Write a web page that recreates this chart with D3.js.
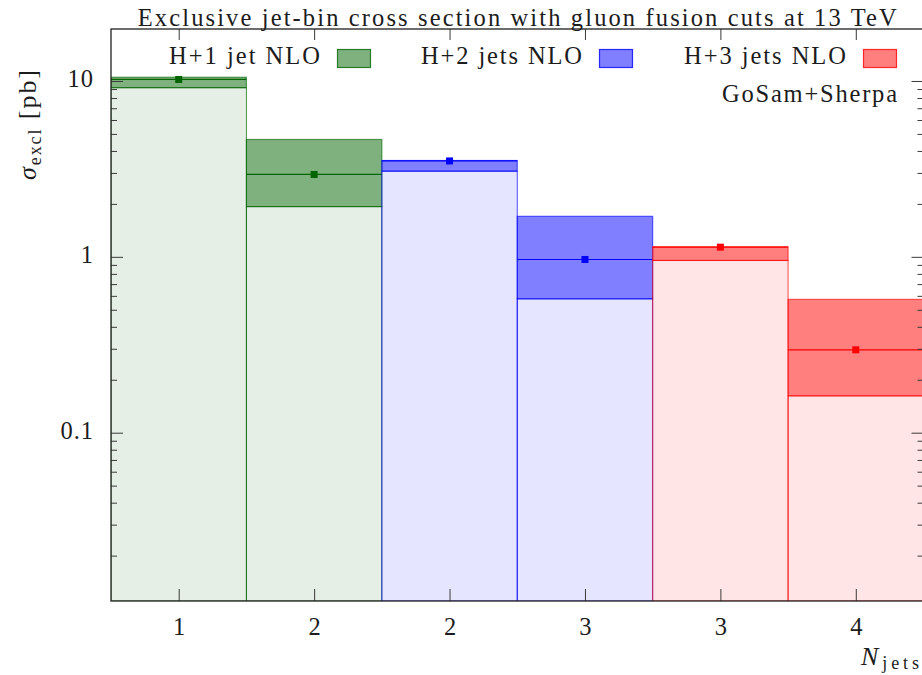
<!DOCTYPE html>
<html>
<head>
<meta charset="utf-8">
<script src="https://cdn.jsdelivr.net/npm/d3@7"></script>
<style>
  body { margin: 0; background: #fff; }
  svg { display: block; }
</style>
</head>
<body>
<svg id="chart" width="922" height="675"></svg>
<script>
// Exclusive jet-bin cross sections (pb): central value and scale-variation band per bin
const binLabels   = ["1", "2", "2", "3", "3", "4"];
const binSeries   = [0, 0, 1, 1, 2, 2];
const seriesNames = ["H+1 jet NLO", "H+2 jets NLO", "H+3 jets NLO"];
const seriesColors = ["#006400", "#0000ff", "#ff0000"];
const central = [10.2, 2.94, 3.51, 0.966, 1.135, 0.296];
const upper   = [10.5, 4.65, 3.53, 1.70, 1.14, 0.573];
const lower   = [9.16, 1.93, 3.07, 0.577, 0.954, 0.162];
const yMajorTicks  = [0.1, 1, 10];
const yMajorLabels = ["0.1", "1", "10"];
const titleText = "Exclusive jet-bin cross section with gluon fusion cuts at 13 TeV";
const creditText = "GoSam+Sherpa";

const SERIF = "'Liberation Serif', 'Times New Roman', Tinos, 'DejaVu Serif', 'Noto Serif', Times, serif";
const TEXT_COLOR = "#1c1c1c";

const svg = d3.select("#chart")
  .attr("font-family", SERIF).style("font-family", SERIF);
const plotLeft = 111, plotRight = 923.5, plotTop = 29, plotBottom = 601;
const FS = 24.5;

const x = d3.scaleLinear().domain([0.5, binLabels.length + 0.5]).range([plotLeft, plotRight]);
const y = d3.scaleLog().domain([0.01104, 19.75]).range([plotBottom, plotTop]);

svg.append("clipPath").attr("id", "plot-clip")
  .append("rect").attr("x", plotLeft).attr("y", plotTop)
  .attr("width", plotRight - plotLeft).attr("height", plotBottom - plotTop);

function serifText(sel, size) {
  return sel.attr("font-family", SERIF).style("font-family", SERIF)
    .style("font-size", size + "px").attr("fill", TEXT_COLOR);
}

// Bins: pale column up to the band, shaded band, central line and marker
const bins = svg.append("g").attr("clip-path", "url(#plot-clip)")
  .selectAll("g.bin").data(binLabels.map((d, i) => i)).join("g").attr("class", "bin");

bins.append("rect")
  .attr("x", i => x(i + 0.5)).attr("width", i => x(i + 1.5) - x(i + 0.5))
  .attr("y", i => y(lower[i])).attr("height", i => plotBottom - y(lower[i]))
  .attr("fill", i => seriesColors[binSeries[i]]).attr("fill-opacity", 0.1)
  .attr("stroke", i => seriesColors[binSeries[i]]).attr("stroke-opacity", 0.7).attr("stroke-width", 1);

bins.append("rect")
  .attr("x", i => x(i + 0.5)).attr("width", i => x(i + 1.5) - x(i + 0.5))
  .attr("y", i => y(upper[i])).attr("height", i => y(lower[i]) - y(upper[i]))
  .attr("fill", i => seriesColors[binSeries[i]]).attr("fill-opacity", 0.5)
  .attr("stroke", i => seriesColors[binSeries[i]]).attr("stroke-opacity", 0.6).attr("stroke-width", 1.2);

bins.append("line")
  .attr("x1", i => x(i + 0.5)).attr("x2", i => x(i + 1.5))
  .attr("y1", i => y(central[i])).attr("y2", i => y(central[i]))
  .attr("stroke", i => seriesColors[binSeries[i]]).attr("stroke-width", 1.2);

bins.append("rect")
  .attr("x", i => x(i + 1) - 3.5).attr("y", i => y(central[i]) - 3.5)
  .attr("width", 7).attr("height", 7)
  .attr("fill", i => seriesColors[binSeries[i]]);

// Axes (ticks point inward on all four sides)
const minorTicks = [];
[0.01, 0.1, 1, 10].forEach(dec => {
  for (let m = 2; m <= 9; m++) {
    const v = dec * m;
    if (v > y.domain()[0] && v < y.domain()[1]) minorTicks.push(v);
  }
});

function styleAxis(g) {
  g.attr("font-family", SERIF);
  g.select(".domain").remove();
  g.selectAll(".tick line").attr("stroke", "#3a3a3a").attr("stroke-width", 1);
  g.selectAll(".tick text").call(serifText, FS);
}

svg.append("g").attr("transform", `translate(${plotLeft},0)`)
  .call(d3.axisLeft(y).tickValues(yMajorTicks).tickSize(-12).tickPadding(17)
    .tickFormat((d, i) => yMajorLabels[i]))
  .call(styleAxis)
  .call(g => g.selectAll(".tick text").attr("dy", "0.24em").style("letter-spacing", "1px"));

svg.append("g").attr("transform", `translate(${plotLeft},0)`)
  .call(d3.axisLeft(y).tickValues(minorTicks).tickSize(-6).tickFormat(""))
  .call(styleAxis);

svg.append("g").attr("transform", `translate(${plotRight},0)`)
  .call(d3.axisRight(y).tickValues(yMajorTicks).tickSize(-12).tickFormat(""))
  .call(styleAxis);

svg.append("g").attr("transform", `translate(${plotRight},0)`)
  .call(d3.axisRight(y).tickValues(minorTicks).tickSize(-6).tickFormat(""))
  .call(styleAxis);

svg.append("g").attr("transform", `translate(0,${plotBottom})`)
  .call(d3.axisBottom(x).tickValues(d3.range(1, binLabels.length + 1)).tickSize(-12).tickPadding(16.5)
    .tickFormat((d, i) => binLabels[i]))
  .call(styleAxis);

svg.append("g").attr("transform", `translate(0,${plotTop})`)
  .call(d3.axisTop(x).tickValues(d3.range(1, binLabels.length + 1)).tickSize(-11).tickFormat(""))
  .call(styleAxis);

// Frame
svg.append("rect").attr("x", plotLeft).attr("y", plotTop)
  .attr("width", plotRight - plotLeft).attr("height", plotBottom - plotTop)
  .attr("fill", "none").attr("stroke", "#1f1f1f").attr("stroke-width", 1.3);

// Title
svg.append("text").attr("x", (plotLeft + plotRight) / 2).attr("y", 26).attr("text-anchor", "middle")
  .attr("textLength", 759).attr("lengthAdjust", "spacing")
  .call(serifText, FS).text(titleText);

// Legend
const legendEnds = [320, 582, 846];
const legendWidths = [151, 161, 162];
const legend = svg.append("g").selectAll("g").data(seriesNames).join("g");
legend.append("text").attr("x", (d, i) => legendEnds[i] - legendWidths[i]).attr("y", 63.5)
  .attr("textLength", (d, i) => legendWidths[i]).attr("lengthAdjust", "spacing")
  .call(serifText, FS).text(d => d);
legend.append("rect").attr("x", (d, i) => legendEnds[i] + 17.5).attr("y", 49.5)
  .attr("width", 33).attr("height", 18)
  .attr("fill", (d, i) => seriesColors[i]).attr("fill-opacity", 0.5)
  .attr("stroke", (d, i) => seriesColors[i]).attr("stroke-opacity", 0.8).attr("stroke-width", 1.2);

svg.append("text").attr("x", 722).attr("y", 101.5)
  .attr("textLength", 175).attr("lengthAdjust", "spacing")
  .call(serifText, FS).text(creditText);

// Axis titles
const yTitle = svg.append("text").attr("transform", "translate(36,180) rotate(-90)")
  .attr("textLength", 110).attr("lengthAdjust", "spacing").call(serifText, 26);
yTitle.append("tspan").style("font-style", "italic").text("σ");
yTitle.append("tspan").attr("dy", 4.5).style("font-size", "18px").text("excl");
yTitle.append("tspan").attr("dy", -4.5).text(" [pb]");

const xTitle = svg.append("text").attr("x", 861).attr("y", 665)
  .attr("textLength", 58).attr("lengthAdjust", "spacing").call(serifText, 26);
xTitle.append("tspan").style("font-style", "italic").text("N");
xTitle.append("tspan").attr("dy", 3.5).style("font-size", "18px").text("jets");
</script>
</body>
</html>
